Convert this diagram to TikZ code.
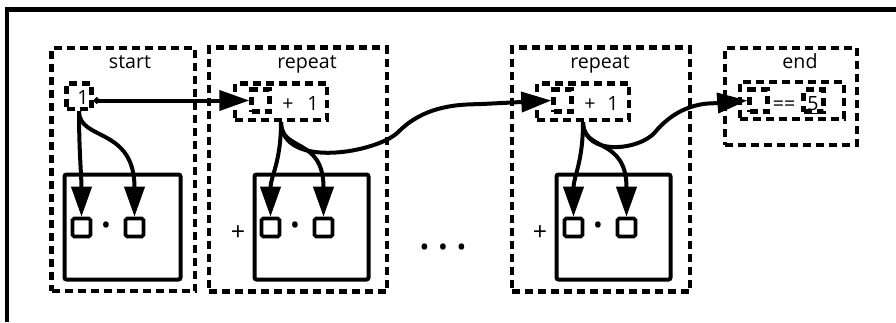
\documentclass[tikz,border=0pt]{standalone}
\usepackage{fontspec}
\setmainfont{Open Sans}
\usetikzlibrary{arrows.meta,fit}
\begin{document}
\begin{tikzpicture}[x=0.5pt,y=-0.5pt,
  dbox/.style={draw, line width=2.2pt, dash pattern=on 4pt off 2.5pt, inner sep=0pt},
  sbox/.style={draw, line width=2pt, inner sep=0pt, rounded corners=1pt},
  sq/.style={draw, line width=1.8pt, minimum size=9pt, inner sep=0pt, rounded corners=0.8pt},
  lbl/.style={font=\fontsize{9.8}{11}\selectfont, anchor=base, inner sep=0pt},
  bigplus/.style={font=\fontsize{12.5}{14}\selectfont, inner sep=0pt},
  dot/.style={font=\fontsize{13}{14}\selectfont, inner sep=0pt},
  conn/.style={line width=2pt, -{Triangle[length=15pt,width=10pt]}},
  ]
\useasboundingbox (0,0) rectangle (896,322);
% frame
\draw[line width=2.2pt, line join=miter] (7,322) -- (7,9.5) -- (896,9.5);
% outer dashed boxes
\node[dbox, fit={(51.5,48)(195,291)}] (startbox) {};
\node[dbox, fit={(209,47.5)(387,291.5)}] (rep1box) {};
\node[dbox, fit={(512,47.5)(690,291.5)}] (rep2box) {};
\node[dbox, fit={(725,48)(857,145)}] (endbox) {};
% labels
\node[lbl] (startlbl) at (130,68.5) {start};
\node[lbl] (rep1lbl) at (307,68.5) {repeat};
\node[lbl] (rep2lbl) at (600,68.5) {repeat};
\node[lbl] (endlbl) at (800,68.5) {end};
% start value
\node[dbox, fit={(66.5,83.5)(91.5,109)}] (onebox) {};
\node[lbl] (one) at (83,104) {1};
% op boxes
\node[dbox, fit={(235,83.5)(327,120)}] (op1) {};
\node[dbox, fit={(251.5,89.5)(269.5,111.5)}] (ph1) {};
\node[lbl] (plusa) at (288,110.5) {+};
\node[lbl] (numa) at (313,110.5) {1};
\node[dbox, fit={(537,83.5)(629,120)}] (op2) {};
\node[dbox, fit={(553.5,89.5)(571.5,111.5)}] (ph2) {};
\node[lbl] (plusb) at (590,110.5) {+};
\node[lbl] (numb) at (613,110.5) {1};
\node[dbox, fit={(740,82)(844,119)}] (op3) {};
\node[dbox, fit={(749.5,89.5)(767.5,111.5)}] (ph3) {};
\node[lbl] (eq) at (784,110) {==};
\node[dbox, fit={(803.5,89.5)(823.5,111.5)}] (fivebox) {};
\node[lbl] (five) at (813,110) {\underline{5}};
% bodies
\node[sbox, fit={(64.5,174.5)(180.5,279.5)}] (body0) {};
\node[sbox, fit={(254.5,174.5)(368.5,279.5)}] (body1) {};
\node[sbox, fit={(556.5,174.5)(670.5,279.5)}] (body2) {};
\node[sq] (s0a) at (81.5,227.5) {};
\node[sq] (s0b) at (134.5,227.5) {};
\node[sq] (s1a) at (270.5,227.5) {};
\node[sq] (s1b) at (323.5,227.5) {};
\node[sq] (s2a) at (573.5,227.5) {};
\node[sq] (s2b) at (626.5,227.5) {};
\node[dot] (d0) at (106,228) {•};
\node[dot] (d1) at (295,228) {•};
\node[dot] (d2) at (598,228) {•};
\node[bigplus] (pl1) at (238,233) {+};
\node[bigplus] (pl2) at (540,233) {+};
\node[dot] (ell) at (443,250) {\makebox[9.25pt]{•}\makebox[9.25pt]{•}\makebox[9.25pt]{•}};
% connectors
\draw[line width=2pt, {Circle[length=3pt]}-{Triangle[length=15pt,width=10pt]}] (onebox.east |- ph1.west) -- (ph1.west);
\draw[conn] (onebox.south) .. controls +(0,40) and +(0,-40) .. (s0a.north);
\draw[conn] (onebox.south) .. controls +(0,30) and +(0,-90) .. (s0b.north);
\draw[conn] (op1.south) .. controls +(0,40) and +(0,-40) .. (s1a.north);
\draw[conn] (op1.south) .. controls +(0,30) and +(0,-80) .. (s1b.north);
\draw[conn] (op2.south) .. controls +(0,40) and +(0,-40) .. (s2a.north);
\draw[conn] (op2.south) .. controls +(0,30) and +(0,-80) .. (s2b.north);
\draw[conn] (op1.south) .. controls +(1,48) and +(-20,20) .. ++(117,10)
  .. controls +(20,-20) and +(-35,0) .. ++(80,-28) -- (ph2.west);
\draw[conn] (op2.south) .. controls +(1,35) and +(-15,18) .. ++(72,10)
  .. controls +(15,-18) and +(-25,0) .. ++(60,-29) -- (ph3.west);
\end{tikzpicture}
\end{document}
